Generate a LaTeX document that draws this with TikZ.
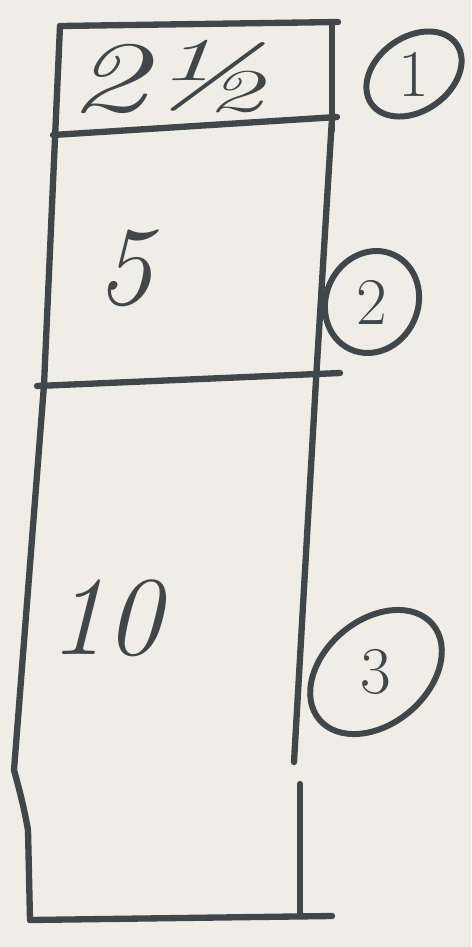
\documentclass[tikz,border=0pt]{standalone}
\usepackage{tikz}
\definecolor{paper}{HTML}{EFEDE6}
\definecolor{pencil}{HTML}{40474B}

\begin{document}
\begin{tikzpicture}[
        x=0.02cm, y=-0.02cm,
        wall/.style={pencil, line width=3.6pt, line cap=round, line join=round},
        depth/.style={pencil, font=\fontsize{64}{64}\selectfont\itshape},
        tag/.style={pencil, inner sep=0pt, font=\fontsize{38}{38}\selectfont},
        ring/.style={pencil, line width=3.4pt}
    ]
    % paper
    \fill[paper] (0,0) rectangle (471,947);
    \useasboundingbox (0,0) rectangle (471,947);

    % Column outline
    \draw[wall] (60,26) -- (338,22);
    \draw[wall] (332,22) -- (332,130);
    \draw[wall] (60,26) -- (44,385) -- (14,770) to[out=-75,in=100] (28,830) -- (30,920);
    \draw[wall] (30,920) -- (332,916);
    \draw[wall] (332,118) -- (316,380) -- (294,762);
    \draw[wall] (300,784) -- (300,916);

    % Layer boundaries
    \draw[wall] (53,135) -- (337,117);
    \draw[wall] (37,386) -- (340,373);

    % Layer thicknesses
    \node[depth, transform shape, xscale=1.4, yscale=0.9] (thick1) at (170,77) {2\textonehalf};
    \node[depth] (thick2) at (125,268) {5};
    \node[depth] (thick3) at (106,618) {10};

    % Layer numbers
    \node[tag] (lay1) at (414,74)  {1};
    \node[tag] (lay2) at (372,302) {2};
    \node[tag] (lay3) at (376,672) {3};
    \draw[ring] (lay1) ellipse [x radius=52, y radius=37, rotate=35];
    \draw[ring] (lay2) ellipse [x radius=52, y radius=46, rotate=65];
    \draw[ring] (lay3) ellipse [x radius=74, y radius=52, rotate=40];
\end{tikzpicture}
\end{document}
